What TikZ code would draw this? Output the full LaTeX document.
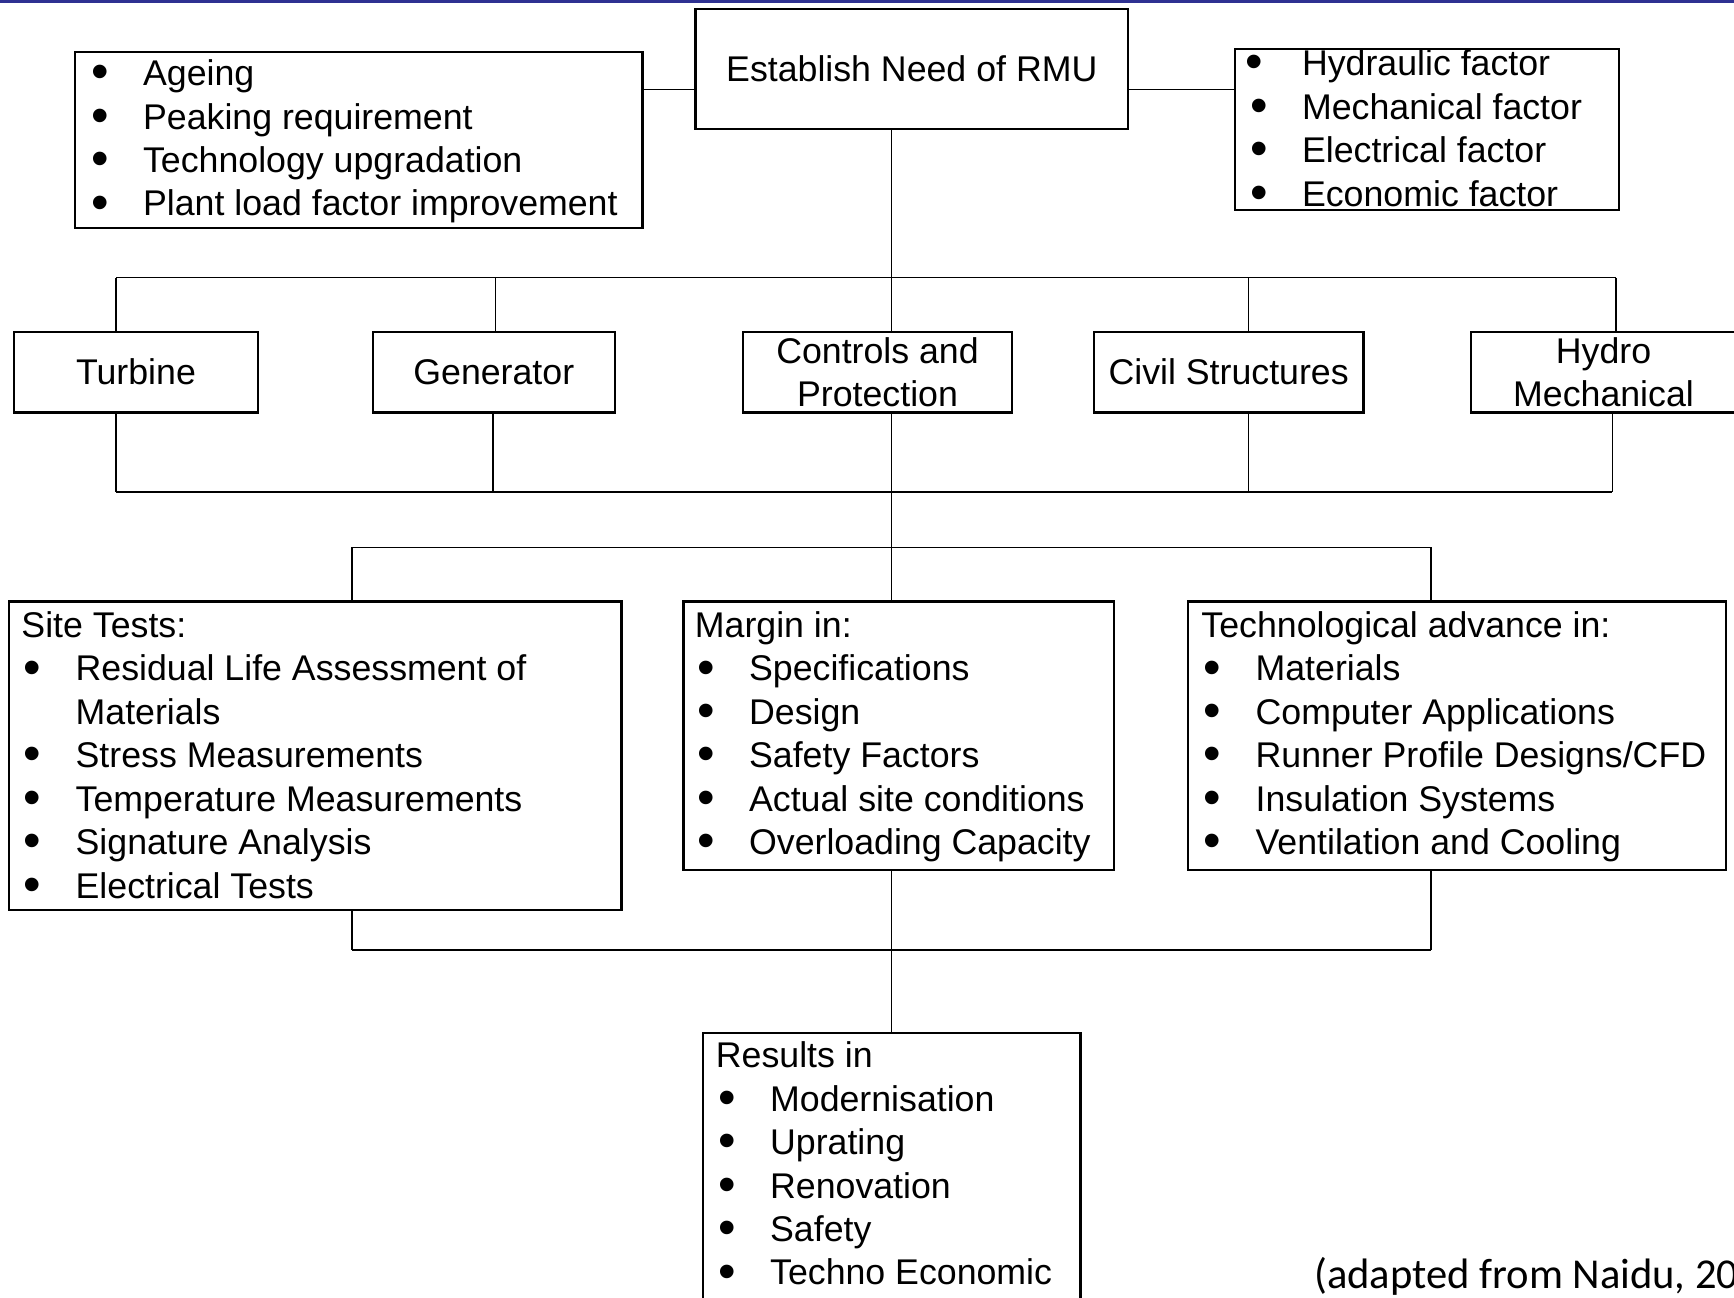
\documentclass[tikz,border=0pt]{standalone}
\usepackage{fontspec}
\usepackage{graphicx}
\setmainfont{Liberation Sans}
\newfontfamily\capfont{Carlito}
\definecolor{topblue}{RGB}{46,49,146}
\newlength\bgap
\setlength\bgap{19.5pt}
\newcommand\bul{\raisebox{-1.4pt}{\scalebox{1.4}{\textbullet}}}
\newcommand\itm[1]{\hspace*{24.5pt}\llap{\makebox[0pt]{\bul}\hspace{\bgap}}#1}
\tikzset{
  box/.style={draw, line width=1pt, inner sep=0pt, align=center,
    font=\fontsize{16.15pt}{19.65pt}\selectfont},
  listtext/.style={anchor=north west, inner sep=0pt, align=left,
    font=\fontsize{16.15pt}{19.65pt}\selectfont},
  conn/.style={line width=0.75pt},
}
\begin{document}
\begin{tikzpicture}[x=0.5pt, y=-0.5pt]
\useasboundingbox (0,0) rectangle (1568,1173);
\fill[topblue] (0,0) rectangle (1568,2.5);

% top row
\node[box, minimum width=391*0.5pt, minimum height=109*0.5pt] (need) at (824.5,62.5) {Establish Need of RMU};
\node[box, minimum width=513*0.5pt, minimum height=159*0.5pt] (lbox) at (324.5,126.5) {};
\node[listtext] (ltxt) at (80,49.5) {\strut\itm{Ageing}\\ \itm{Peaking requirement}\\ \itm{Technology upgradation}\\ \itm{Plant load factor improvement}};
\node[box, minimum width=347*0.5pt, minimum height=146*0.5pt] (rbox) at (1290.5,117) {};
\node[listtext] (rtxt) at (1128,40.5) {\setlength\bgap{21.5pt}\strut\itm{Hydraulic factor}\\ \itm{Mechanical factor}\\ \itm{Electrical factor}\\ \itm{Economic factor}};

% components row
\node[box, minimum width=220*0.5pt, minimum height=73*0.5pt] (turb) at (123,336.5) {Turbine};
\node[box, minimum width=219*0.5pt, minimum height=73*0.5pt] (gen) at (446.5,336.5) {Generator};
\node[box, minimum width=243*0.5pt, minimum height=73*0.5pt] (ctrl) at (793.5,336.5) {Controls and\\Protection};
\node[box, minimum width=244*0.5pt, minimum height=73*0.5pt] (civil) at (1111,336.5) {Civil Structures};
\node[box, minimum width=240*0.5pt, minimum height=73*0.5pt] (hydro) at (1450,336.5) {Hydro\\Mechanical};

% third row
\node[box, minimum width=554*0.5pt, minimum height=279*0.5pt] (site) at (285,683.5) {};
\node[listtext] (sitetxt) at (19,548.5) {\strut Site Tests:\\ \itm{Residual Life Assessment of}\\ \hspace*{24.5pt}Materials\\ \itm{Stress Measurements}\\ \itm{Temperature Measurements}\\ \itm{Signature Analysis}\\ \itm{Electrical Tests}};
\node[box, minimum width=389*0.5pt, minimum height=243*0.5pt] (margin) at (812.5,665.5) {};
\node[listtext] (margintxt) at (628,548.5) {\strut Margin in:\\ \itm{Specifications}\\ \itm{Design}\\ \itm{Safety Factors}\\ \itm{Actual site conditions}\\ \itm{Overloading Capacity}};
\node[box, minimum width=487*0.5pt, minimum height=243*0.5pt] (tech) at (1317.5,665.5) {};
\node[listtext] (techtxt) at (1086,548.5) {\strut Technological advance in:\\ \itm{Materials}\\ \itm{Computer Applications}\\ \itm{Runner Profile Designs/CFD}\\ \itm{Insulation Systems}\\ \itm{Ventilation and Cooling}};

% results
\node[box, minimum width=341*0.5pt, minimum height=251*0.5pt] (res) at (806.5,1059.5) {};
\node[listtext] (restxt) at (647,937.5) {\strut Results in\\ \itm{Modernisation}\\ \itm{Uprating}\\ \itm{Renovation}\\ \itm{Safety}\\ \itm{Techno Economic}};

\node[anchor=base west, inner sep=0pt, font=\capfont\fontsize{19.25pt}{23pt}\selectfont] (cap) at (1188,1165) {(adapted from Naidu, 20};

% bus coordinates
\coordinate (ba1) at (105,251);
\coordinate (ba2) at (448,251);
\coordinate (ba3) at (806,251);
\coordinate (ba4) at (1129,251);
\coordinate (ba5) at (1461,251);
\coordinate (bb1) at (105,445);
\coordinate (bb2) at (446,445);
\coordinate (bb3) at (806,445);
\coordinate (bb4) at (1129,445);
\coordinate (bb5) at (1458,445);
\coordinate (bc1) at (318,495);
\coordinate (bc2) at (806,495);
\coordinate (bc3) at (1294,495);
\coordinate (bd1) at (318,859);
\coordinate (bd2) at (806,859);
\coordinate (bd3) at (1294,859);

% connectors
\draw[conn] (lbox.east |- 0,81) -- (need.west |- 0,81);
\draw[conn] (need.east |- 0,81) -- (rbox.west |- 0,81);
\draw[conn] (ba3 |- need.south) -- (ba3);
\draw[conn] (ba1) -- (ba5);
\draw[conn] (ba1) -- (ba1 |- turb.north);
\draw[conn] (ba2) -- (ba2 |- gen.north);
\draw[conn] (ba3) -- (ba3 |- ctrl.north);
\draw[conn] (ba4) -- (ba4 |- civil.north);
\draw[conn] (ba5) -- (ba5 |- hydro.north);
\draw[conn] (bb1 |- turb.south) -- (bb1);
\draw[conn] (bb2 |- gen.south) -- (bb2);
\draw[conn] (bb3 |- ctrl.south) -- (bb3);
\draw[conn] (bb4 |- civil.south) -- (bb4);
\draw[conn] (bb5 |- hydro.south) -- (bb5);
\draw[conn] (bb1) -- (bb5);
\draw[conn] (bb3) -- (bc2);
\draw[conn] (bc1) -- (bc3);
\draw[conn] (bc1) -- (bc1 |- site.north);
\draw[conn] (bc2) -- (bc2 |- margin.north);
\draw[conn] (bc3) -- (bc3 |- tech.north);
\draw[conn] (bd1 |- site.south) -- (bd1);
\draw[conn] (bd2 |- margin.south) -- (bd2);
\draw[conn] (bd3 |- tech.south) -- (bd3);
\draw[conn] (bd1) -- (bd3);
\draw[conn] (bd2) -- (bd2 |- res.north);
\end{tikzpicture}
\end{document}
